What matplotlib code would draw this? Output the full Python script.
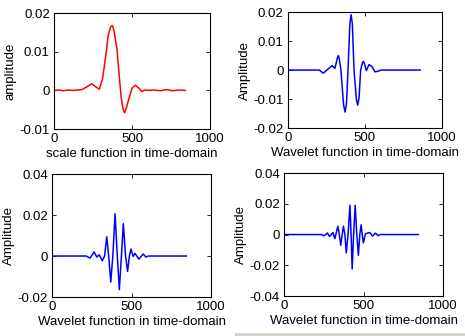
import matplotlib
matplotlib.use("Agg")
import matplotlib.pyplot as plt
from matplotlib.patches import Rectangle

plt.rcParams['font.family'] = ['Liberation Sans', 'DejaVu Sans']

# Scale function (red)
scale_x = [0, 30, 60, 90, 120, 150, 180, 210, 242, 265, 290, 311, 332, 347, 362, 374, 384,
           403, 416, 429, 441, 452, 462, 483, 500, 521, 543, 562, 579, 610, 640, 680, 720,
           760, 800, 840]
scale_y = [0.0, 0.0001, -0.0001, 0.0001, 0.0, 0.0001, 0.0002, 0.0009, 0.0017, 0.0010,
           0.0003, 0.0030, 0.0090, 0.0142, 0.0164, 0.0168, 0.0155, 0.0108, 0.0047, -0.0013,
           -0.0047, -0.0058, -0.0047, -0.0017, 0.0006, 0.0013, 0.0006, -0.0003, 0.0001,
           0.0, 0.0001, -0.0001, 0.0002, -0.0001, 0.0001, 0.0]

# Wavelet 1
w1_x = [0, 205, 230, 258, 287, 306, 322, 328, 334, 345, 362, 372, 381, 391, 403, 411, 419,
        430, 445, 454, 463, 473, 485, 491, 498, 510, 528, 546, 566, 586, 606, 860]
w1_y = [0.0, 0.0, -0.0011, 0.0002, 0.0015, 0.0006, 0.0042, 0.0050, 0.0040, 0.0,
        -0.0120, -0.0145, -0.0115, 0.0, 0.0160, 0.0191, 0.0160, 0.0, -0.0100, -0.0121,
        -0.0095, 0.0, 0.0026, 0.0030, 0.0022, -0.0002, 0.0019, 0.0012, -0.0006, -0.0004,
        0.0, 0.0]

# Wavelet 2
w2_x = [0, 215, 239, 264, 281, 296, 316, 330, 344, 356, 369, 382, 396, 410, 423, 436, 448,
        462, 475, 486, 496, 510, 521, 546, 573, 590, 604, 844]
w2_y = [0.0, 0.0, -0.0010, 0.0020, -0.0005, 0.0006, -0.0023, 0.0, 0.0094, 0.0, -0.0127,
        0.0, 0.0206, 0.0, -0.0164, 0.0, 0.0158, 0.0, -0.0075, 0.0, 0.0034, -0.0002,
        0.0013, -0.0015, 0.0010, -0.0005, 0.0, 0.0]

# Wavelet 3
w3_x = [0, 235, 251, 272, 286, 307, 319, 338, 347, 356, 365, 373, 382, 391, 402, 414, 421,
        428, 437, 447, 457, 467, 476, 484, 498, 512, 539, 556, 574, 591, 605, 844]
w3_y = [0.0, 0.0, -0.0009, 0.0010, -0.0013, 0.0013, -0.0027, 0.0054, 0.0, -0.0070, 0.0,
        0.0054, 0.0, -0.0120, 0.0, 0.0190, 0.0, -0.0224, 0.0, 0.0190, 0.0, -0.0135, 0.0,
        0.0063, -0.0055, 0.0006, 0.0013, -0.0010, 0.0009, -0.0007, 0.0, 0.0]

xticks = [0, 500, 1000]
yticks1 = [-0.01, 0, 0.01, 0.02]
ylabels1 = ['-0.01', '0', '0.01', '0.02']
yticks2 = [-0.02, -0.01, 0, 0.01, 0.02]
ylabels2 = ['-0.02', '-0.01', '0', '0.01', '0.02']
yticks3 = [-0.02, 0, 0.02, 0.04]
ylabels3 = ['-0.02', '0', '0.02', '0.04']
yticks4 = [-0.04, -0.02, 0, 0.02, 0.04]
ylabels4 = ['-0.04', '-0.02', '0', '0.02', '0.04']

fig = plt.figure(figsize=(4.65, 3.36), dpi=100)

panels = [
    ([0.116, 0.616, 0.336, 0.345], scale_x, scale_y, 'red', yticks1, ylabels1,
     'amplitude', 'scale function in time-domain'),
    ([0.619, 0.619, 0.331, 0.345], w1_x, w1_y, 'blue', yticks2, ylabels2,
     'Amplitude', 'Wavelet function in time-domain'),
    ([0.112, 0.116, 0.342, 0.366], w2_x, w2_y, 'blue', yticks3, ylabels3,
     'Amplitude', 'Wavelet function in time-domain'),
    ([0.611, 0.119, 0.342, 0.366], w3_x, w3_y, 'blue', yticks4, ylabels4,
     'Amplitude', 'Wavelet function in time-domain'),
]

fs = 9.5
for rect, xs, ys, col, yt, yl, ylab, xlab in panels:
    ax = fig.add_axes(rect)
    ax.plot(xs, ys, color=col, lw=1.1)
    ax.set_xlim(0, 1000)
    ax.set_ylim(yt[0], yt[-1])
    ax.set_xticks(xticks)
    ax.set_xticklabels([str(t) for t in xticks], fontsize=fs)
    ax.set_yticks(yt)
    ax.set_yticklabels(yl, fontsize=fs)
    ax.tick_params(direction='in', length=3, width=0.6, top=True, right=True, pad=3)
    for s in ax.spines.values():
        s.set_linewidth(0.8)
    ax.set_xlabel(xlab, fontsize=fs, labelpad=2)
    ax.set_ylabel(ylab, fontsize=fs, labelpad=2)

fig.patches.append(Rectangle((235 / 465, 0), 230 / 465, 3 / 336, transform=fig.transFigure,
                             facecolor='#d8d4cc', edgecolor='none'))

fig.savefig('out.png', dpi=100)
